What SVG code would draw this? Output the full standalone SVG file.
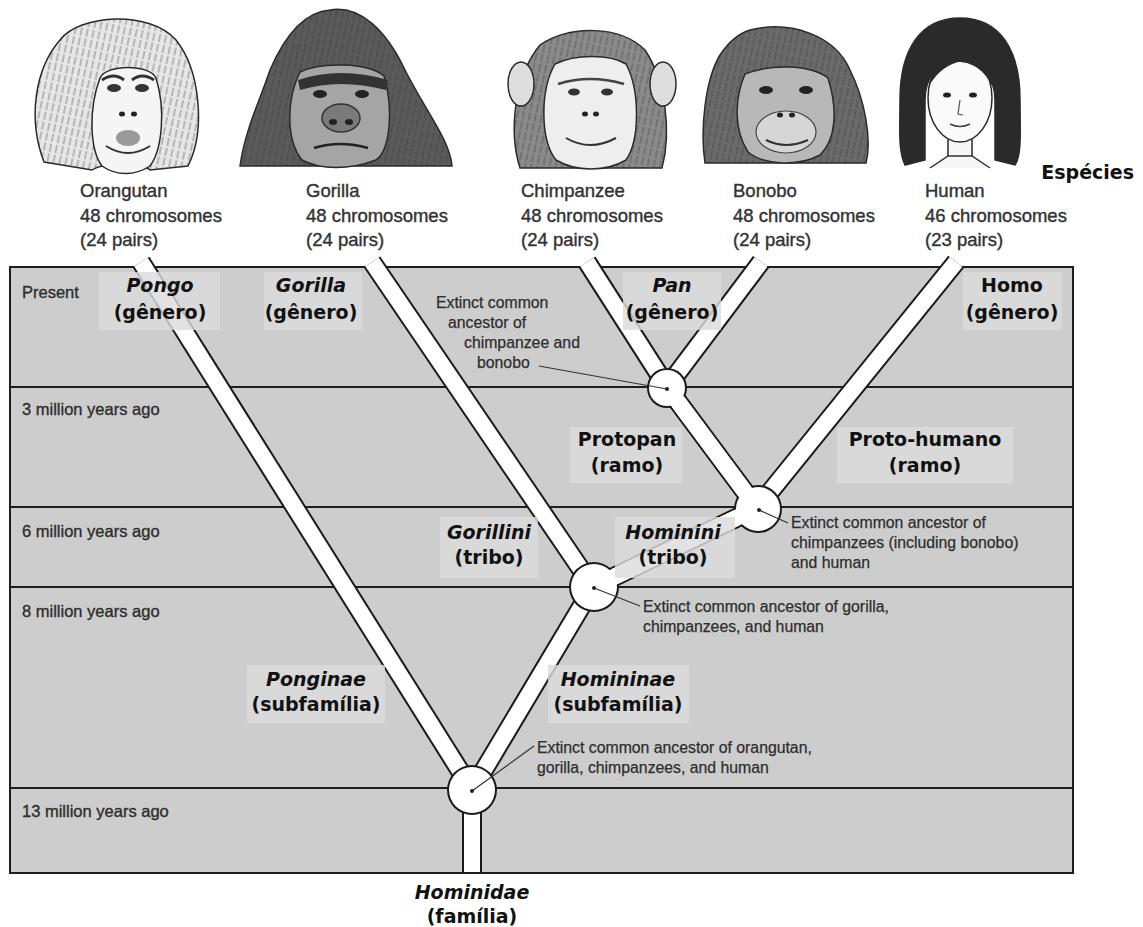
<svg xmlns="http://www.w3.org/2000/svg" width="1143" height="927" viewBox="0 0 1143 927">
<defs>
<pattern id="fur" width="6" height="10" patternUnits="userSpaceOnUse" patternTransform="rotate(12)">
<line x1="2" y1="0" x2="2" y2="8" stroke="#333" stroke-width="1" opacity="0.55"/>
</pattern>
<style>
.panel{fill:#cdcdcd;stroke:#1e1e1e;stroke-width:2}
.row{stroke:#1e1e1e;stroke-width:2.2}
.bo{stroke:#1a1a1a;stroke-width:20;fill:none}
.bi{stroke:#ffffff;stroke-width:16;fill:none}
.no{fill:#1a1a1a}
.ni{fill:#ffffff}
.box{fill:#dcdcdc;opacity:0.82}
.lbl{font-family:"DejaVu Sans",sans-serif;font-weight:bold;font-size:19px;fill:#111;text-anchor:middle}
.it{font-style:italic}
.time{font-family:"Liberation Sans",Arial,sans-serif;font-size:16.5px;fill:#2e2e2e;stroke:#2e2e2e;stroke-width:0.35}
.ann{font-family:"Liberation Sans",Arial,sans-serif;font-size:15.8px;fill:#2e2e2e;stroke:#2e2e2e;stroke-width:0.25}
.sp{font-family:"Liberation Sans",Arial,sans-serif;font-size:18.5px;fill:#333;stroke:#333;stroke-width:0.4}
.ptr{stroke:#333;stroke-width:1.2;fill:none}
.dot{fill:#222}
.hd{stroke:#2a2a2a;stroke-width:1.5}
</style>
</defs>
<rect width="1143" height="927" fill="#ffffff"/>

<g id="faces">
<g id="face-orangutan">
<path class="hd" d="M60 40 C80 14 150 10 176 40 C200 70 206 130 188 166 L150 170 C140 162 104 162 92 170 L44 162 C28 120 34 70 60 40 Z" fill="#e6e6e6"/>
<path d="M60 40 C80 14 150 10 176 40 C200 70 206 130 188 166 L150 170 C140 162 104 162 92 170 L44 162 C28 120 34 70 60 40 Z" fill="url(#fur)"/>
<path class="hd" d="M100 78 C106 64 150 64 156 78 C166 110 162 150 150 166 C135 176 116 176 102 166 C90 150 88 110 100 78 Z" fill="#f5f5f5"/>
<path d="M102 80 Q114 72 124 80 M132 80 Q142 72 154 80" stroke="#333" stroke-width="3" fill="none"/>
<ellipse cx="114" cy="88" rx="7" ry="4" fill="#333"/>
<ellipse cx="142" cy="88" rx="7" ry="4" fill="#333"/>
<ellipse cx="122" cy="114" rx="3" ry="2.5" fill="#222"/>
<ellipse cx="134" cy="114" rx="3" ry="2.5" fill="#222"/>
<ellipse cx="128" cy="138" rx="12" ry="8" fill="#9a9a9a"/>
<path d="M106 146 Q128 160 150 146" stroke="#333" stroke-width="2" fill="none"/>
</g>
<g id="face-gorilla">
<path class="hd" d="M330 10 C360 5 386 30 405 70 C425 110 450 140 452 166 L240 166 C245 130 260 100 270 70 C285 35 305 12 330 10 Z" fill="#5a5a5a"/>
<path d="M330 10 C360 5 386 30 405 70 C425 110 450 140 452 166 L240 166 C245 130 260 100 270 70 C285 35 305 12 330 10 Z" fill="url(#fur)"/>
<path class="hd" d="M300 72 C320 62 368 62 384 76 C394 110 390 150 376 160 C350 170 320 170 302 160 C286 140 286 100 300 72 Z" fill="#a5a5a5"/>
<path d="M298 80 Q340 66 388 80 L386 90 Q340 78 300 90 Z" fill="#333"/>
<ellipse cx="320" cy="94" rx="7" ry="4" fill="#222"/>
<ellipse cx="362" cy="94" rx="7" ry="4" fill="#222"/>
<ellipse cx="341" cy="118" rx="19" ry="14" fill="#7a7a7a" stroke="#333" stroke-width="1.5"/>
<ellipse cx="333" cy="122" rx="4" ry="3" fill="#222"/>
<ellipse cx="349" cy="122" rx="4" ry="3" fill="#222"/>
<path d="M314 148 Q340 140 368 148" stroke="#222" stroke-width="2.5" fill="none"/>
</g>
<g id="face-chimpanzee">
<path class="hd" d="M540 45 C570 25 620 25 645 50 C665 80 672 130 662 168 L520 168 C508 130 515 75 540 45 Z" fill="#8a8a8a"/>
<path d="M540 45 C570 25 620 25 645 50 C665 80 672 130 662 168 L520 168 C508 130 515 75 540 45 Z" fill="url(#fur)"/>
<ellipse class="hd" cx="521" cy="84" rx="13" ry="22" fill="#dedede"/>
<ellipse class="hd" cx="663" cy="84" rx="13" ry="22" fill="#dedede"/>
<path class="hd" d="M555 64 C575 54 610 54 626 64 C640 90 640 140 626 160 C606 172 576 172 556 160 C540 140 540 90 555 64 Z" fill="#eeeeee"/>
<path d="M558 84 Q590 74 624 84" stroke="#444" stroke-width="2.5" fill="none"/>
<ellipse cx="574" cy="92" rx="6" ry="3.5" fill="#333"/>
<ellipse cx="607" cy="92" rx="6" ry="3.5" fill="#333"/>
<ellipse cx="585" cy="114" rx="3" ry="2.5" fill="#222"/>
<ellipse cx="596" cy="114" rx="3" ry="2.5" fill="#222"/>
<path d="M566 138 Q590 152 616 138" stroke="#333" stroke-width="2" fill="none"/>
</g>
<g id="face-bonobo">
<path class="hd" d="M750 30 C790 20 835 35 850 70 C865 100 872 140 866 163 L705 163 C700 130 705 80 720 55 C730 40 740 33 750 30 Z" fill="#6a6a6a"/>
<path d="M750 30 C790 20 835 35 850 70 C865 100 872 140 866 163 L705 163 C700 130 705 80 720 55 C730 40 740 33 750 30 Z" fill="url(#fur)"/>
<path class="hd" d="M745 74 C770 64 810 64 828 78 C838 110 836 140 820 155 C800 166 765 166 748 152 C734 130 734 100 745 74 Z" fill="#b8b8b8"/>
<ellipse cx="766" cy="90" rx="7" ry="4" fill="#222"/>
<ellipse cx="806" cy="90" rx="7" ry="4" fill="#222"/>
<ellipse cx="786" cy="132" rx="30" ry="21" fill="#d6d6d6" stroke="#444" stroke-width="1.2"/>
<ellipse cx="780" cy="115" rx="3" ry="2.5" fill="#222"/>
<ellipse cx="792" cy="115" rx="3" ry="2.5" fill="#222"/>
<path d="M766 140 Q786 150 808 140" stroke="#333" stroke-width="2" fill="none"/>
</g>
<g id="face-human">
<path class="hd" d="M960 18 C1000 18 1020 50 1020 100 C1020 130 1022 155 1015 165 L995 160 L995 100 C995 80 985 62 960 56 C935 62 925 80 925 100 L925 160 L905 165 C898 150 900 130 900 100 C900 50 920 18 960 18 Z" fill="#2a2a2a"/>
<path class="hd" d="M948 132 L948 158 L972 158 L972 132 Z" fill="#f7f7f7"/>
<path d="M930 168 Q945 158 948 156 L972 156 Q975 158 990 168" stroke="#333" stroke-width="1.5" fill="#f7f7f7"/>
<ellipse class="hd" cx="960" cy="98" rx="32" ry="44" fill="#fafafa"/>
<path d="M928 88 C935 60 950 50 962 50 C978 52 990 66 993 88 C985 70 972 62 958 62 C944 66 934 76 928 88 Z" fill="#2a2a2a"/>
<ellipse cx="947" cy="95" rx="4" ry="2.5" fill="#222"/>
<ellipse cx="973" cy="95" rx="4" ry="2.5" fill="#222"/>
<path d="M960 100 L958 114 L963 115" stroke="#555" stroke-width="1.2" fill="none"/>
<path d="M950 124 Q960 129 970 124" stroke="#444" stroke-width="1.5" fill="none"/>
</g>
</g>

<g id="species-labels">
<text class="lbl" x="1134" y="179" style="text-anchor:end">Espécies</text>
<g id="sp-orangutan" class="sp"><text x="80" y="197">Orangutan</text><text x="80" y="222">48 chromosomes</text><text x="80" y="246">(24 pairs)</text></g>
<g id="sp-gorilla" class="sp"><text x="306" y="197">Gorilla</text><text x="306" y="222">48 chromosomes</text><text x="306" y="246">(24 pairs)</text></g>
<g id="sp-chimpanzee" class="sp"><text x="521" y="197">Chimpanzee</text><text x="521" y="222">48 chromosomes</text><text x="521" y="246">(24 pairs)</text></g>
<g id="sp-bonobo" class="sp"><text x="733" y="197">Bonobo</text><text x="733" y="222">48 chromosomes</text><text x="733" y="246">(24 pairs)</text></g>
<g id="sp-human" class="sp"><text x="925" y="197">Human</text><text x="925" y="222">46 chromosomes</text><text x="925" y="246">(23 pairs)</text></g>
</g>

<g id="timeline">
<rect class="panel" x="10" y="267" width="1063" height="606"/>
<line class="row" x1="10" y1="387" x2="1073" y2="387"/>
<line class="row" x1="10" y1="507" x2="1073" y2="507"/>
<line class="row" x1="10" y1="587" x2="1073" y2="587"/>
<line class="row" x1="10" y1="788" x2="1073" y2="788"/>
<text class="time" x="22" y="298">Present</text>
<text class="time" x="22" y="415">3 million years ago</text>
<text class="time" x="22" y="537">6 million years ago</text>
<text class="time" x="22" y="617">8 million years ago</text>
<text class="time" x="22" y="817">13 million years ago</text>
</g>

<g id="connectors">
<g>
<line class="bo" x1="141" y1="262" x2="472" y2="790"/>
<line class="bo" x1="372" y1="262" x2="593" y2="587"/>
<line class="bo" x1="587" y1="262" x2="667" y2="387"/>
<line class="bo" x1="761" y1="262" x2="667" y2="387"/>
<line class="bo" x1="956" y1="262" x2="757" y2="508"/>
<line class="bo" x1="667" y1="387" x2="757" y2="508"/>
<line class="bo" x1="757" y1="508" x2="593" y2="587"/>
<line class="bo" x1="593" y1="587" x2="472" y2="790"/>
<line class="bo" x1="472" y1="790" x2="472" y2="872"/>
</g>
<g>
<line class="bi" x1="141" y1="262" x2="472" y2="790"/>
<line class="bi" x1="372" y1="262" x2="593" y2="587"/>
<line class="bi" x1="587" y1="262" x2="667" y2="387"/>
<line class="bi" x1="761" y1="262" x2="667" y2="387"/>
<line class="bi" x1="956" y1="262" x2="757" y2="508"/>
<line class="bi" x1="667" y1="387" x2="757" y2="508"/>
<line class="bi" x1="757" y1="508" x2="593" y2="587"/>
<line class="bi" x1="593" y1="587" x2="472" y2="790"/>
<line class="bi" x1="472" y1="790" x2="472" y2="872"/>
</g>
</g>

<g id="node-pan-ancestor"><circle class="no" cx="667" cy="388" r="20"/></g>
<g id="node-chimp-human-ancestor"><circle class="no" cx="758" cy="509" r="24"/></g>
<g id="node-gorilla-ancestor"><circle class="no" cx="594" cy="587" r="25"/></g>
<g id="node-root-ancestor"><circle class="no" cx="472" cy="790" r="25"/></g>
<g id="node-fills">
<circle class="ni" cx="667" cy="388" r="18"/>
<circle class="ni" cx="758" cy="509" r="22"/>
<circle class="ni" cx="594" cy="587" r="23"/>
<circle class="ni" cx="472" cy="790" r="23"/>
<line class="bi" x1="757" y1="508" x2="593" y2="587"/>
<line class="bi" x1="667" y1="387" x2="757" y2="508"/>
</g>

<g id="label-boxes">
<rect class="box" x="99" y="272" width="121" height="58"/>
<rect class="box" x="264" y="272" width="98" height="58"/>
<rect class="box" x="623" y="272" width="98" height="58"/>
<rect class="box" x="963" y="272" width="99" height="58"/>
<rect class="box" x="570" y="427" width="112" height="56"/>
<rect class="box" x="837" y="427" width="176" height="56"/>
<rect class="box" x="440" y="517" width="98" height="61"/>
<rect class="box" x="615" y="517" width="120" height="61"/>
<rect class="box" x="247" y="665" width="138" height="58"/>
<rect class="box" x="548" y="665" width="141" height="58"/>
</g>

<g id="labels">
<g id="lbl-pongo"><text class="lbl it" x="160" y="292">Pongo</text><text class="lbl" x="160" y="319">(gênero)</text></g>
<g id="lbl-gorilla"><text class="lbl it" x="311" y="292">Gorilla</text><text class="lbl" x="311" y="319">(gênero)</text></g>
<g id="lbl-pan"><text class="lbl it" x="672" y="292">Pan</text><text class="lbl" x="672" y="319">(gênero)</text></g>
<g id="lbl-homo"><text class="lbl" x="1012" y="292">Homo</text><text class="lbl" x="1012" y="319">(gênero)</text></g>
<g id="lbl-protopan"><text class="lbl" x="627" y="446">Protopan</text><text class="lbl" x="627" y="472">(ramo)</text></g>
<g id="lbl-protohumano"><text class="lbl" x="925" y="446">Proto-humano</text><text class="lbl" x="925" y="472">(ramo)</text></g>
<g id="lbl-gorillini"><text class="lbl it" x="489" y="539">Gorillini</text><text class="lbl" x="489" y="564">(tribo)</text></g>
<g id="lbl-hominini"><text class="lbl it" x="673" y="539">Hominini</text><text class="lbl" x="673" y="564">(tribo)</text></g>
<g id="lbl-ponginae"><text class="lbl it" x="316" y="686">Ponginae</text><text class="lbl" x="316" y="711">(subfamília)</text></g>
<g id="lbl-homininae"><text class="lbl it" x="618" y="686">Homininae</text><text class="lbl" x="618" y="711">(subfamília)</text></g>
<g id="lbl-hominidae"><text class="lbl it" x="472" y="899">Hominidae</text><text class="lbl" x="472" y="923">(família)</text></g>
</g>

<g id="annotations">
<g id="ann-pan">
<text class="ann" x="436" y="308">Extinct common</text>
<text class="ann" x="448" y="328">ancestor of</text>
<text class="ann" x="464" y="348">chimpanzee and</text>
<text class="ann" x="477" y="368">bonobo</text>
<line class="ptr" x1="539" y1="366" x2="667" y2="389"/>
<circle class="dot" cx="667" cy="389" r="2"/>
</g>
<g id="ann-chimp-human">
<text class="ann" x="791" y="528">Extinct common ancestor of</text>
<text class="ann" x="791" y="548">chimpanzees (including bonobo)</text>
<text class="ann" x="791" y="568">and human</text>
<line class="ptr" x1="759" y1="510" x2="788" y2="523"/>
<circle class="dot" cx="759" cy="510" r="2"/>
</g>
<g id="ann-gorilla">
<text class="ann" x="643" y="612">Extinct common ancestor of gorilla,</text>
<text class="ann" x="643" y="632">chimpanzees, and human</text>
<line class="ptr" x1="594" y1="588" x2="640" y2="606"/>
<circle class="dot" cx="594" cy="588" r="2"/>
</g>
<g id="ann-root">
<text class="ann" x="537" y="753">Extinct common ancestor of orangutan,</text>
<text class="ann" x="537" y="773">gorilla, chimpanzees, and human</text>
<line class="ptr" x1="472" y1="791" x2="534" y2="746"/>
<circle class="dot" cx="472" cy="791" r="2"/>
</g>
</g>
</svg>
